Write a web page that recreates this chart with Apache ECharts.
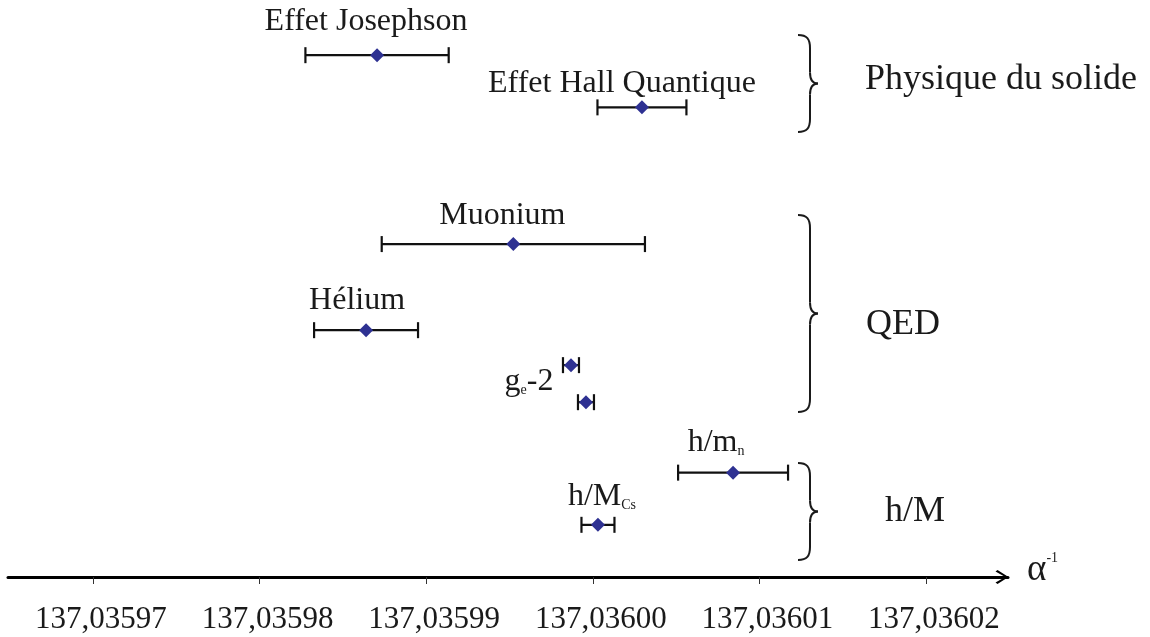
<!DOCTYPE html>
<html>
<head>
<meta charset="utf-8">
<script src="https://cdn.jsdelivr.net/npm/echarts@6/dist/echarts.min.js"></script>
<style>
  html, body { margin: 0; padding: 0; background: #fff; }
  #chart { width: 1150px; height: 637px; }
</style>
</head>
<body>
<div id="chart"></div>
<script>
var names  = ['Effet Josephson', 'Effet Hall Quantique', 'Muonium', 'Hélium', 'g_e-2', 'g_e-2', 'h/m_n', 'h/M_Cs'];
var values = [137.03598705, 137.03600295, 137.03599523, 137.03598639, 137.03599869, 137.03599959, 137.03600842, 137.03600031];
var errors = [0.00000430, 0.00000267, 0.00000790, 0.00000312, 0.00000048, 0.00000048, 0.00000330, 0.00000099];
// rang vertical de chaque mesure
var rows   = [1, 2, 4.62, 6.27, 6.94, 7.65, 9, 10];
var ticks  = [137.03597, 137.03598, 137.03599, 137.03600, 137.03601, 137.03602];

var groups = ['Physique du solide', 'QED', 'h/M'];

// mise en page (pixels)
var labelOffsets = [[-11, -34], [-20, -24], [-11, -28], [-9, -30], [-42, 16], null, [-17, -30], [4, -28]];
var braces = [[35, 132], [215, 412], [463, 560]];
var groupLabelPos = [[865, 80], [866, 325], [885, 512]];

var FONT = '"Liberation Serif", "DejaVu Serif", serif';
var INK = '#1a1a1a';

function run() {
    var chart = echarts.init(document.getElementById('chart'));

    function richName(s) {
        // x_y -> indice
        return s.replace(/_([A-Za-z]+)/, '{s|$1}');
    }

    var seen = {};
    var points = values.map(function (v, i) {
        var item = { value: [v, rows[i]] };
        if (!seen[names[i]] && labelOffsets[i]) {
            seen[names[i]] = true;
            item.label = {
                show: true,
                position: 'inside',
                offset: labelOffsets[i],
                formatter: richName(names[i])
            };
        }
        return item;
    });

    var bars = values.map(function (v, i) {
        return [v, rows[i], v - errors[i], v + errors[i]];
    });

    function braceEls(x, y1, y2) {
        var m = (y1 + y2) / 2, s = x + 12, t = x + 20;
        var st = { stroke: INK, lineWidth: 2, fill: null };
        return [
            { type: 'bezierCurve', shape: { x1: x, y1: y1, cpx1: x + 9, cpy1: y1, cpx2: s, cpy2: y1 + 4, x2: s, y2: y1 + 13 }, style: st },
            { type: 'line', shape: { x1: s, y1: y1 + 13, x2: s, y2: m - 11 }, style: st },
            { type: 'bezierCurve', shape: { x1: s, y1: m - 11, cpx1: s, cpy1: m - 3, cpx2: s + 3, cpy2: m, x2: t, y2: m }, style: st },
            { type: 'bezierCurve', shape: { x1: t, y1: m, cpx1: s + 3, cpy1: m, cpx2: s, cpy2: m + 3, x2: s, y2: m + 11 }, style: st },
            { type: 'line', shape: { x1: s, y1: m + 11, x2: s, y2: y2 - 13 }, style: st },
            { type: 'bezierCurve', shape: { x1: s, y1: y2 - 13, cpx1: s, cpy1: y2 - 4, cpx2: x + 9, cpy2: y2, x2: x, y2: y2 }, style: st }
        ];
    }

    var graphics = [];
    braces.forEach(function (b) {
        graphics = graphics.concat(braceEls(798, b[0], b[1]));
    });
    groups.forEach(function (g, i) {
        graphics.push({
            type: 'text',
            x: groupLabelPos[i][0],
            y: groupLabelPos[i][1],
            style: { text: g, fontSize: 36, fontFamily: FONT, fill: INK, verticalAlign: 'middle', align: 'left' }
        });
    });

    var option = {
        animation: false,
        backgroundColor: '#fff',
        grid: { left: 8, right: 142, top: 3, bottom: 60, outerBoundsMode: 'none', containLabel: false },
        xAxis: {
            type: 'value',
            position: 'bottom',
            min: 137.035964898,
            max: 137.036024922,
            splitLine: { show: false },
            name: 'α{sup|-1}',
            nameLocation: 'end',
            nameGap: 19,
            nameTextStyle: {
                fontSize: 37, fontFamily: FONT, color: INK,
                verticalAlign: 'middle', align: 'left',
                padding: [0, 0, 14, 0],
                rich: { sup: { fontSize: 14, fontFamily: FONT, color: INK, verticalAlign: 'top', lineHeight: 14 } }
            },
            axisLine: {
                onZero: false,
                lineStyle: { color: '#000', width: 3 },
                symbol: ['none', 'path://M7,0 L14,11 L12.5,13 L7,3.2 L1.5,13 L0,11 Z'],
                symbolSize: [14, 13],
                symbolOffset: [0, -6]
            },
            axisTick: {
                customValues: ticks,
                length: 7,
                lineStyle: { color: '#333', width: 1 }
            },
            axisLabel: {
                customValues: ticks,
                margin: 27,
                fontSize: 31,
                fontFamily: FONT,
                color: INK,
                padding: [0, 0, 0, 16],
                formatter: function (v) { return v.toFixed(5).replace('.', ','); }
            }
        },
        yAxis: { type: 'value', min: 0, max: 11, inverse: true, show: false },
        series: [
            {
                type: 'custom',
                data: bars,
                z: 2,
                renderItem: function (params, api) {
                    var lo = api.coord([api.value(2), api.value(1)]);
                    var hi = api.coord([api.value(3), api.value(1)]);
                    var st = { stroke: '#111', lineWidth: 2.2 };
                    return {
                        type: 'group',
                        children: [
                            { type: 'line', shape: { x1: lo[0], y1: lo[1], x2: hi[0], y2: hi[1] }, style: st },
                            { type: 'line', shape: { x1: lo[0], y1: lo[1] - 8, x2: lo[0], y2: lo[1] + 8 }, style: st },
                            { type: 'line', shape: { x1: hi[0], y1: hi[1] - 8, x2: hi[0], y2: hi[1] + 8 }, style: st }
                        ]
                    };
                }
            },
            {
                type: 'scatter',
                data: points,
                z: 3,
                symbol: 'diamond',
                symbolSize: 14,
                itemStyle: { color: '#2e3192', opacity: 1 },
                label: {
                    fontSize: 32,
                    fontFamily: FONT,
                    color: INK,
                    opacity: 1,
                    rich: { s: { fontSize: 14, fontFamily: FONT, color: INK, verticalAlign: 'bottom', lineHeight: 16 } }
                }
            }
        ],
        graphic: graphics
    };

    chart.setOption(option);
}

if (document.readyState !== 'loading') {
    run();
} else {
    document.addEventListener('DOMContentLoaded', run);
}
</script>
</body>
</html>
